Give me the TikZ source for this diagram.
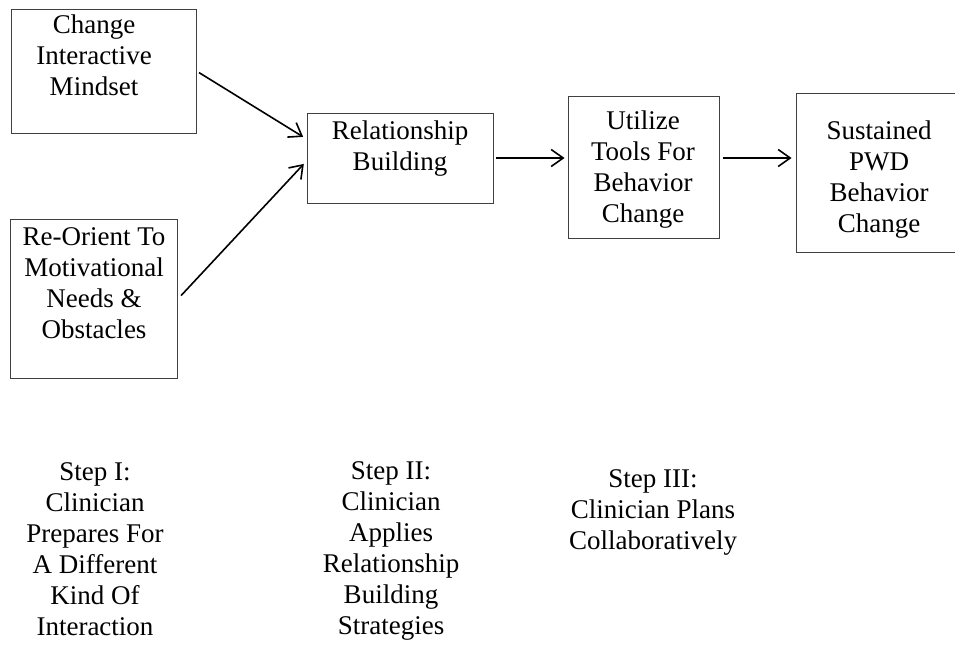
\documentclass[tikz,border=0pt]{standalone}
\usepackage{fontspec}
\setmainfont{Liberation Serif}
\usetikzlibrary{arrows.meta,calc}
\begin{document}
\begin{tikzpicture}[x=1pt,y=-1pt,
  box/.style={draw=black!75, line width=0.9pt, inner sep=0pt},
  txt/.style={font=\fontsize{27}{31}\selectfont, align=center, inner sep=0pt, anchor=base},
  arr/.style={-{Straight Barb[length=12pt,width=17pt]}, line width=1.6pt}]
\useasboundingbox (0,0) rectangle (955,648);
% boxes
\node[box, minimum width=185pt, minimum height=124pt] (b1) at (103.5,71) {};
\node[box, minimum width=167pt, minimum height=159pt] (b2) at (94.4,298.5) {};
\node[box, minimum width=186pt, minimum height=90pt] (b3) at (400,158) {};
\node[box, minimum width=151pt, minimum height=142pt] (b4) at (643.5,167) {};
\node[box, minimum width=166pt, minimum height=159pt] (b5) at (879,172.5) {};
% box texts (anchor = baseline of last line)
\node[txt] (t1) at (94,95) {Change\\Interactive\\Mindset};
\node[txt] (t2) at (94,338) {Re-Orient To\\Motivational\\Needs \&\\Obstacles};
\node[txt] (t3) at (400,170) {Relationship\\Building};
\node[txt] (t4) at (643,222) {Utilize\\Tools For\\Behavior\\Change};
\node[txt] (t5) at (879,232) {Sustained\\PWD\\Behavior\\Change};
% step texts
\node[txt] (s1) at (95,635) {Step I:\\Clinician\\Prepares For\\A Different\\Kind Of\\Interaction};
\node[txt] (s2) at (391,634) {Step II:\\Clinician\\Applies\\Relationship\\Building\\Strategies};
\node[txt] (s3) at (653,549) {Step III:\\Clinician Plans\\Collaboratively};
% arrows
\draw[arr, shorten <=3pt, shorten >=4pt] (b1.east) -- ($(b3.west)+(0,-19)$);
\draw[arr, shorten <=4pt, shorten >=4pt] (b2.east) -- ($(b3.west)+(0,3)$);
\draw[arr, shorten <=3pt, shorten >=3pt] (b3.east) -- (b4.west|-b3.east);
\draw[arr, shorten <=4pt, shorten >=4pt] (b4.east|-b3.east) -- (b5.west|-b3.east);
\end{tikzpicture}
\end{document}
